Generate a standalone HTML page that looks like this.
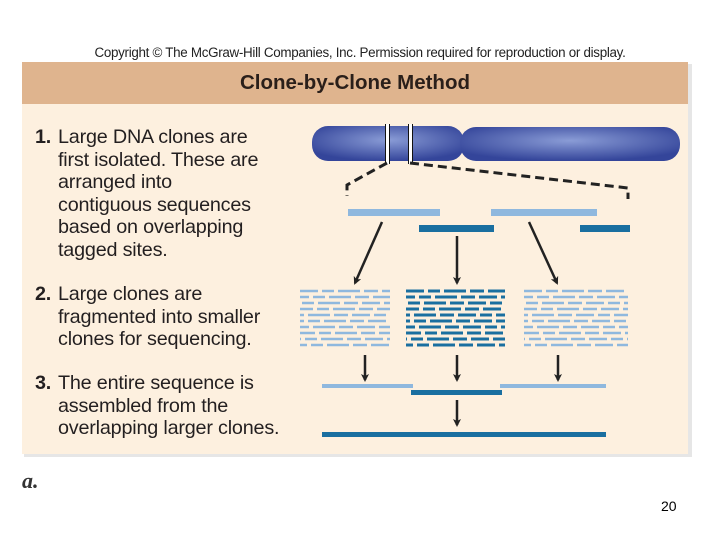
<!DOCTYPE html><html><head><style>
body{margin:0;width:720px;height:540px;background:#fff;position:relative;overflow:hidden;font-family:"Liberation Sans",sans-serif}
.a{position:absolute}
.t{position:absolute;left:35px;font-size:19.8px;line-height:22.5px;color:#231f20;white-space:nowrap;letter-spacing:-0.2px}
.t b{display:inline-block;width:23px}
.t span{display:block;padding-left:23px}
</style></head><body>
<div class="a" style="left:0;top:45px;width:720px;text-align:center;font-size:13.4px;color:#222;letter-spacing:-0.3px">Copyright © The McGraw-Hill Companies, Inc. Permission required for reproduction or display.</div>
<div class="a" style="left:24px;top:64px;width:668px;height:393px;background:#e6e6e6"></div>
<div class="a" style="left:22px;top:62px;width:666px;height:392px;background:#fdf0df"></div>
<div class="a" style="left:22px;top:62px;width:666px;height:42px;background:#dfb48e;text-align:center;line-height:42px;font-size:20.5px;font-weight:bold;color:#2a1f1a">Clone-by-Clone Method</div>
<div class="t" style="top:126px"><b>1.</b>Large DNA clones are<span>first isolated. These are</span><span>arranged into</span><span>contiguous sequences</span><span>based on overlapping</span><span>tagged sites.</span></div>
<div class="t" style="top:283px"><b>2.</b>Large clones are<span>fragmented into smaller</span><span>clones for sequencing.</span></div>
<div class="t" style="top:372px"><b>3.</b>The entire sequence is<span>assembled from the</span><span>overlapping larger clones.</span></div>
<svg class="a" style="left:0;top:0" width="720" height="540">
<defs><radialGradient id="g" cx="50%" cy="40%" r="60%"><stop offset="0" stop-color="#8a9cd6"/><stop offset="1" stop-color="#34459a"/></radialGradient>
<marker id="m" markerWidth="8" markerHeight="8" refX="6" refY="4" orient="auto" markerUnits="userSpaceOnUse"><path d="M0,0L8,4L0,8L2,4Z" fill="#222"/></marker></defs>
<rect x="312" y="126" width="152" height="35" rx="16" fill="url(#g)"/>
<rect x="460" y="127" width="220" height="34" rx="16" fill="url(#g)"/>
<rect x="386" y="124" width="3" height="40" fill="#fff"/><rect x="385" y="124" width="1" height="40" fill="#111"/><rect x="389" y="124" width="1" height="40" fill="#111"/>
<rect x="409" y="124" width="3" height="40" fill="#fff"/><rect x="408" y="124" width="1" height="40" fill="#111"/><rect x="412" y="124" width="1" height="40" fill="#111"/>
<path d="M387,163L347,185L347,196M410,163L628,188L628,199" stroke="#222" stroke-width="3" fill="none" stroke-dasharray="9,5"/>
<g fill="#8fb8de"><rect x="348" y="209" width="92" height="7"/><rect x="491" y="209" width="106" height="7"/></g>
<g fill="#1a6fa0"><rect x="419" y="225" width="75" height="7"/><rect x="580" y="225" width="50" height="7"/></g>
<g stroke="#222" stroke-width="2.5" marker-end="url(#m)"><line x1="382" y1="222" x2="355" y2="283"/><line x1="457" y1="236" x2="457" y2="283"/><line x1="529" y1="222" x2="557" y2="283"/>
<line x1="365" y1="355" x2="365" y2="380"/><line x1="457" y1="355" x2="457" y2="380"/><line x1="558" y1="355" x2="558" y2="380"/><line x1="457" y1="400" x2="457" y2="425"/></g>
<g stroke="#8fb8de" stroke-width="2.5" stroke-dasharray="18,4,12,4,22,4,14,4">
<line x1="300" y1="291" x2="390" y2="291"/><line x1="300" y1="297" x2="390" y2="297" stroke-dashoffset="9"/><line x1="300" y1="303" x2="390" y2="303" stroke-dashoffset="20"/><line x1="300" y1="309" x2="390" y2="309" stroke-dashoffset="5"/><line x1="300" y1="315" x2="390" y2="315" stroke-dashoffset="30"/><line x1="300" y1="321" x2="390" y2="321" stroke-dashoffset="14"/><line x1="300" y1="327" x2="390" y2="327" stroke-dashoffset="25"/><line x1="300" y1="333" x2="390" y2="333" stroke-dashoffset="3"/><line x1="300" y1="339" x2="390" y2="339" stroke-dashoffset="17"/><line x1="300" y1="345" x2="390" y2="345" stroke-dashoffset="11"/>
<line x1="524" y1="291" x2="628" y2="291"/><line x1="524" y1="297" x2="628" y2="297" stroke-dashoffset="9"/><line x1="524" y1="303" x2="628" y2="303" stroke-dashoffset="20"/><line x1="524" y1="309" x2="628" y2="309" stroke-dashoffset="5"/><line x1="524" y1="315" x2="628" y2="315" stroke-dashoffset="30"/><line x1="524" y1="321" x2="628" y2="321" stroke-dashoffset="14"/><line x1="524" y1="327" x2="628" y2="327" stroke-dashoffset="25"/><line x1="524" y1="333" x2="628" y2="333" stroke-dashoffset="3"/><line x1="524" y1="339" x2="628" y2="339" stroke-dashoffset="17"/><line x1="524" y1="345" x2="628" y2="345" stroke-dashoffset="11"/></g>
<g stroke="#1a6fa0" stroke-width="3" stroke-dasharray="18,4,12,4,22,4,14,4">
<line x1="406" y1="291" x2="505" y2="291"/><line x1="406" y1="297" x2="505" y2="297" stroke-dashoffset="9"/><line x1="406" y1="303" x2="505" y2="303" stroke-dashoffset="20"/><line x1="406" y1="309" x2="505" y2="309" stroke-dashoffset="5"/><line x1="406" y1="315" x2="505" y2="315" stroke-dashoffset="30"/><line x1="406" y1="321" x2="505" y2="321" stroke-dashoffset="14"/><line x1="406" y1="327" x2="505" y2="327" stroke-dashoffset="25"/><line x1="406" y1="333" x2="505" y2="333" stroke-dashoffset="3"/><line x1="406" y1="339" x2="505" y2="339" stroke-dashoffset="17"/><line x1="406" y1="345" x2="505" y2="345" stroke-dashoffset="11"/></g>
<g fill="#8fb8de"><rect x="322" y="384" width="91" height="4"/><rect x="500" y="384" width="106" height="4"/></g>
<rect x="411" y="390" width="91" height="5" fill="#1a6fa0"/>
<rect x="322" y="432" width="284" height="5" fill="#1a6fa0"/>
</svg>
<div class="a" style="left:22px;top:468px;font-family:'Liberation Serif',serif;font-style:italic;font-weight:bold;font-size:22px;color:#333">a.</div>
<div class="a" style="left:661px;top:498px;font-size:14px;color:#000">20</div>
</body></html>
